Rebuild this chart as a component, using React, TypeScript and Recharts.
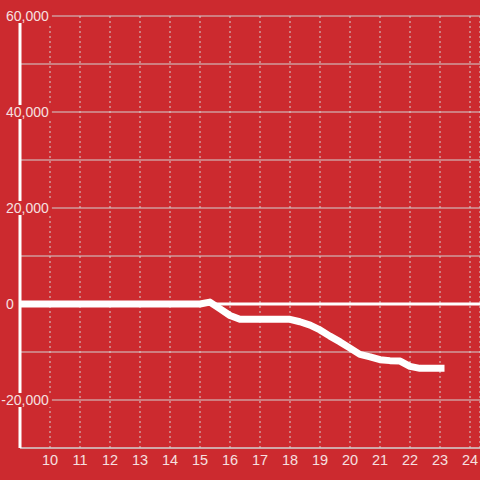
import { LineChart, Line, XAxis, YAxis, CartesianGrid, ReferenceLine } from "recharts";

const xValues = [9, 10, 11, 12, 13, 14, 15, 15.33, 15.67, 16, 16.33, 17, 18, 18.33, 18.67, 19, 19.33, 19.67, 20, 20.33, 20.67, 21, 21.33, 21.67, 22, 22.33, 23.15];
const yValues = [0, 0, 0, 0, 0, 0, 0, 400, -1000, -2400, -3200, -3200, -3200, -3700, -4400, -5400, -6700, -7900, -9200, -10500, -11000, -11600, -11800, -11900, -13000, -13400, -13400];
const xTicks = [10, 11, 12, 13, 14, 15, 16, 17, 18, 19, 20, 21, 22, 23, 24];
const yTicks = [-30000, -20000, -10000, 0, 10000, 20000, 30000, 40000, 50000, 60000];
const yLabelled = [-20000, 0, 20000, 40000, 60000];

const data = xValues.map((x, i) => ({ x, value: yValues[i] }));

const RED = "#cc2a2f";
const TEXT = "#f6e0e0";
const GRID = "#d2d2d2";

const charWidth = (c: string) => (c === "," ? 3.9 : c === "-" ? 4.7 : 7.8);

const YTick = ({ x, y, payload }: any) => {
  const v = payload.value as number;
  if (!yLabelled.includes(v)) return null;
  const label = v.toLocaleString("en-US");
  const w = label.split("").reduce((s, c) => s + charWidth(c), 0);
  const start = x - 14 - (v < 0 ? 4.7 : 0);
  return (
    <g>
      <rect x={start - 2} y={y - 7} width={w + 5} height={14} fill={RED} />
      <text x={start} y={y} dy={5} textAnchor="start" fill={TEXT} fontSize={14} fontFamily="Liberation Sans, Arial, sans-serif">
        {label}
      </text>
    </g>
  );
};

export default function App() {
  return (
    <div style={{ width: 480, height: 480, background: RED, overflow: "hidden" }}>
      <style>{"body{margin:0}"}</style>
      <LineChart width={480} height={480} data={data} margin={{ top: 16, right: 0, bottom: 0, left: 0 }}>
        <CartesianGrid vertical={false} stroke={GRID} strokeWidth={1} />
        <CartesianGrid horizontal={false} stroke={GRID} strokeDasharray="2 3" />
        <XAxis
          dataKey="x"
          type="number"
          domain={[9, 24.3333]}
          ticks={xTicks}
          allowDataOverflow
          height={32}
          tickLine={false}
          tickSize={0}
          tickMargin={7}
          axisLine={{ stroke: GRID, strokeWidth: 1 }}
          tick={{ fill: TEXT, fontSize: 14.5, fontFamily: "Liberation Sans, Arial, sans-serif" }}
        />
        <YAxis
          type="number"
          domain={[-30000, 60000]}
          ticks={yTicks}
          width={20}
          tickLine={false}
          tickSize={0}
          tickMargin={0}
          axisLine={{ stroke: "#ffffff", strokeWidth: 3 }}
          tick={<YTick />}
          interval={0}
        />
        <ReferenceLine y={0} stroke="#ffffff" strokeWidth={3} />
        <Line
          type="linear"
          dataKey="value"
          stroke="#ffffff"
          strokeWidth={7}
          strokeLinejoin="round"
          dot={false}
          isAnimationActive={false}
        />
      </LineChart>
    </div>
  );
}
